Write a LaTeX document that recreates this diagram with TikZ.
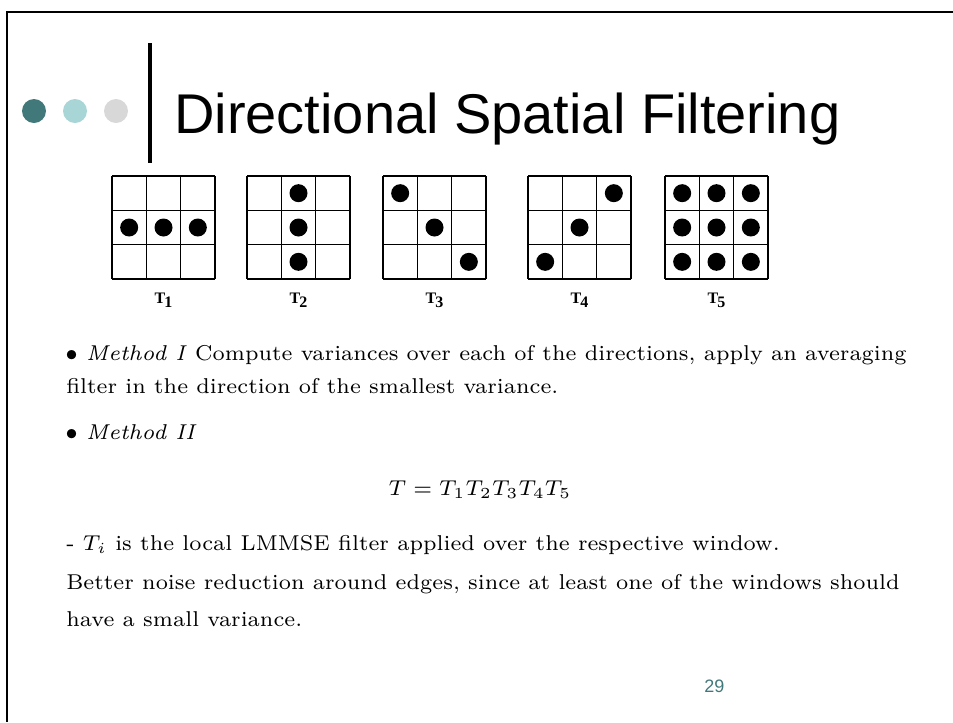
\documentclass[tikz,border=0pt]{standalone}
\usepackage{fontspec}
\usepackage{amsmath}
\usepackage{graphicx}
\usepackage{tikz}
\usetikzlibrary{positioning}
\newfontfamily\slidefont{Liberation Sans}
\newfontfamily\labelfont{Liberation Serif}
\definecolor{dotdark}{RGB}{65,120,122}
\definecolor{dotlight}{RGB}{168,213,214}
\definecolor{dotgrey}{RGB}{216,216,216}
\newcommand{\bodytext}[1]{\scalebox{2.30}{\fontsize{7}{8}\selectfont #1}}

\begin{document}
\begin{tikzpicture}[x=0.75pt,y=-0.75pt,
    cellline/.style={line width=0.9pt},
    wlabel/.style={font=\labelfont\bfseries\fontsize{12}{12}\selectfont, anchor=base, inner sep=0pt},
    body/.style={anchor=base west, inner sep=0pt}]
  \useasboundingbox (0,0) rectangle (953,722);
  % Rahmen
  \draw[line width=1.5pt] (953,12) -- (7,12) -- (7,722);
  % Kopf
  \fill[dotdark] (34,111) circle[radius=9pt];
  \fill[dotlight] (75,111) circle[radius=9pt];
  \fill[dotgrey] (116,111) circle[radius=9pt];
  \draw[line width=3pt] (150,43) -- (150,163);
  \node[font=\slidefont\fontsize{42}{42}\selectfont, anchor=base west, inner sep=0pt] (title) at (174,133) {Directional Spatial Filtering};
  % Fenster T1..T5
  \foreach \wx/\wn/\wcells in {112/1/{0/1,1/1,2/1}, 247/2/{1/0,1/1,1/2},
      383/3/{0/0,1/1,2/2}, 528/4/{2/0,1/1,0/2},
      665/5/{0/0,1/0,2/0,0/1,1/1,2/1,0/2,1/2,2/2}} {
    \foreach \i in {0,...,3} {
      \draw[cellline] (\wx+\i*34.33,176) -- (\wx+\i*34.33,279);
      \draw[cellline] (\wx,176+\i*34.33) -- (\wx+103,176+\i*34.33);
    }
    \foreach \c/\r in \wcells
      \fill (\wx+17.17+\c*34.33,193.17+\r*34.33) circle[radius=6.75pt];
    \node[wlabel] (t\wn) at (\wx+51.5,303) {T\kern-0.8pt\raisebox{-0.6ex}{\wn}};
  }
  % Text
  \node[body] (m1a) at (65,360) {\bodytext{$\bullet$ \textit{Method I} Compute variances over each of the directions, apply an averaging}};
  \node[body] (m1b) at (66,393) {\bodytext{filter in the direction of the smallest variance.}};
  \node[body] (m2) at (65,439) {\bodytext{$\bullet$ \textit{Method II}}};
  \node[body, anchor=base] (eq) at (480,495) {\bodytext{$T = T_1T_2T_3T_4T_5$}};
  \node[body] (ti) at (66,550) {\bodytext{- $T_i$ is the local LMMSE filter applied over the respective window.}};
  \node[body] (bn1) at (66,589) {\bodytext{Better noise reduction around edges, since at least one of the windows should}};
  \node[body] (bn2) at (66,626) {\bodytext{have a small variance.}};
  \node[font=\slidefont\fontsize{13.5}{13.5}\selectfont, text=dotdark, anchor=base west, inner sep=0pt] (pagenum) at (704,692) {29};
\end{tikzpicture}
\end{document}
